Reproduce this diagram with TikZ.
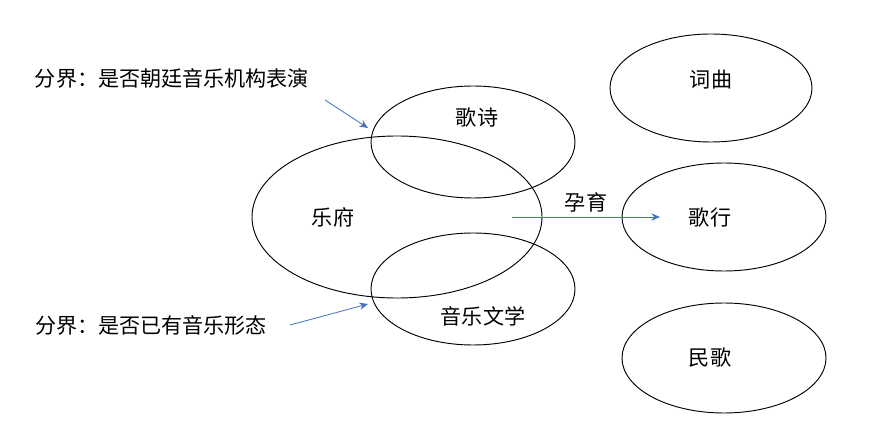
\documentclass[tikz,border=0pt]{standalone}
\usepackage{fontspec}
\setmainfont{Noto Sans CJK SC}
\usetikzlibrary{arrows.meta,shapes.geometric}
\definecolor{arrowblue}{RGB}{68,114,196}
\begin{document}
\begin{tikzpicture}[x=0.03cm,y=-0.03cm]
\tikzstyle{every node}=[font=\fontsize{18pt}{20pt}\selectfont]
\tikzstyle{ell}=[draw,ellipse,inner sep=0pt,line width=0.8pt]
\tikzstyle{link}=[-{Stealth[width=2.2mm,length=2.6mm]},draw=arrowblue,line width=0.7pt]
\useasboundingbox (0,0) rectangle (874,430);

\node[ell,minimum width=8.7cm,minimum height=4.86cm] (yuefu) at (397,217) {};
\node[ell,minimum width=6.12cm,minimum height=3.36cm] (geshi) at (473,142) {};
\node[ell,minimum width=6.12cm,minimum height=3.36cm] (yinyue) at (473,289) {};
\node[ell,minimum width=6.06cm,minimum height=3.24cm] (ciqu) at (711,88) {};
\node[ell,minimum width=6.12cm,minimum height=3.24cm] (gexing) at (724,217) {};
\node[ell,minimum width=6.12cm,minimum height=3.3cm] (minge) at (724,358) {};

\node (tyuefu) at (333,217) {乐府};
\node (tgeshi) at (477,118) {歌诗};
\node (tyinyue) at (483,316) {音乐文学};
\node (tciqu) at (711,80) {词曲};
\node (tgexing) at (710,218) {歌行};
\node (tminge) at (710,358) {民歌};

\node (fenjie1) at (172,78) {分界：是否朝廷音乐机构表演};
\node (fenjie2) at (151,325) {分界：是否已有音乐形态};

\coordinate (a1) at (325,100);
\coordinate (b1) at (368,128);
\coordinate (a2) at (290,325);
\coordinate (b2) at (368,304);
\coordinate (a3) at (512,217);
\coordinate (b3) at (660,217);

\draw[link] (a1) -- (b1);
\draw[link] (a2) -- (b2);
\draw[link] (a3) -- node[above] {孕育} (b3);

\end{tikzpicture}
\end{document}
